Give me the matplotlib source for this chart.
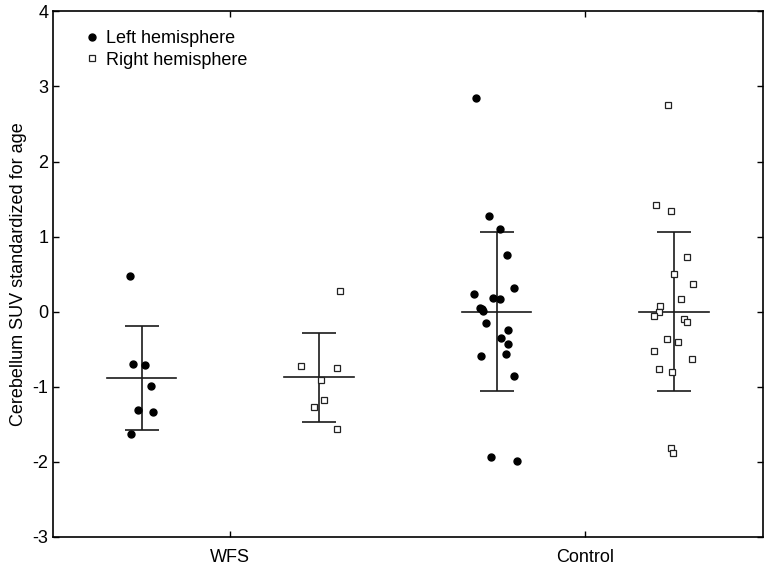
import matplotlib

matplotlib.use("Agg")
import matplotlib.pyplot as plt
import numpy as np

plt.rcParams["font.family"] = ["Liberation Sans", "DejaVu Sans"]
plt.rcParams["axes.unicode_minus"] = False

groups = ["WFS", "Control"]
series = ["Left hemisphere", "Right hemisphere"]

# values
wfs_left = [0.477, -0.698, -0.715, -0.99, -1.314, -1.333, -1.63]
wfs_left_jit = [-0.033, -0.024, 0.009, 0.027, -0.010, 0.032, -0.030]
wfs_right = [0.269, -0.72, -0.755, -0.915, -1.181, -1.274, -1.559]
wfs_right_jit = [0.059, -0.050, 0.051, 0.005, 0.015, -0.013, 0.050]
ctrl_left = [2.842, 1.276, 1.103, 0.757, 0.31, 0.234, 0.18, 0.167, 0.051, 0.038,
             0.003, -0.148, -0.241, -0.356, -0.428, -0.561, -0.591, -0.854, -1.931, -1.989]
ctrl_left_jit = [-0.058, -0.022, 0.011, 0.029, 0.049, -0.063, -0.011, 0.010, -0.047, -0.042,
                 -0.037, -0.031, 0.033, 0.014, 0.032, 0.028, -0.043, 0.049, -0.016, 0.057]
ctrl_right = [2.758, 1.427, 1.338, 0.73, 0.5, 0.367, 0.167, 0.07, -0.001, -0.063,
              -0.103, -0.135, -0.365, -0.401, -0.524, -0.627, -0.764, -0.808, -1.812, -1.882]
ctrl_right_jit = [-0.017, -0.051, -0.008, 0.038, 0.0, 0.053, 0.021, -0.039, -0.042, -0.057,
                  0.027, 0.038, -0.019, 0.011, -0.055, 0.051, -0.041, -0.006, -0.008, -0.004]

means_left = [-0.88, 0.0]
sd_left = [0.69, 1.055]
means_right = [-0.875, 0.0]
sd_right = [0.59, 1.06]

fig = plt.figure(figsize=(7.68, 5.67), dpi=100)
ax = fig.add_axes([0.069, 0.053, 0.924, 0.927])

offset = 0.25
x = np.arange(len(groups))
pts = {
    "left": [(wfs_left, wfs_left_jit), (ctrl_left, ctrl_left_jit)],
    "right": [(wfs_right, wfs_right_jit), (ctrl_right, ctrl_right_jit)],
}
for side, sign in (("left", -1), ("right", 1)):
    means = means_left if side == "left" else means_right
    sds = sd_left if side == "left" else sd_right
    for i, (vals, jit) in enumerate(pts[side]):
        cx = x[i] + sign * offset
        xs = cx + np.asarray(jit)
        if side == "left":
            ax.plot(xs, vals, "o", ms=5, color="black", mec="black", zorder=3)
        else:
            ax.plot(xs, vals, "s", ms=5, mfc="white", mec="#222222", mew=0.9, zorder=3)
        ax.errorbar(cx, means[i], yerr=sds[i], fmt="none", ecolor="#1a1a1a",
                    elinewidth=1.2, capsize=12, capthick=1.2, zorder=2)
        ax.plot([cx - 0.098, cx + 0.098], [means[i], means[i]], color="#1a1a1a", lw=1.2, zorder=2)

# legend entries
ax.plot([], [], "o", ms=5, color="black", label=series[0])
ax.plot([], [], "s", ms=5, mfc="white", mec="#222222", mew=0.9, label=series[1])
ax.legend(loc="upper left", frameon=False, fontsize=13, handletextpad=0.25,
          handlelength=1.0, borderaxespad=0.5, labelspacing=0.25, bbox_to_anchor=(0.02, 0.995))

ax.set_xlim(-0.5, 1.5)
ax.set_ylim(-3, 4)
ax.set_xticks(x)
ax.set_xticklabels(groups)
ax.set_yticks(np.arange(-3, 5))
ax.tick_params(direction="in", top=True, right=True, length=4, labelsize=13, width=1)
ax.tick_params(axis="x", pad=9)
ax.set_ylabel("Cerebellum SUV standardized for age", fontsize=13)
for sp in ax.spines.values():
    sp.set_linewidth(1.2)

fig.savefig("out.png", dpi=100)
